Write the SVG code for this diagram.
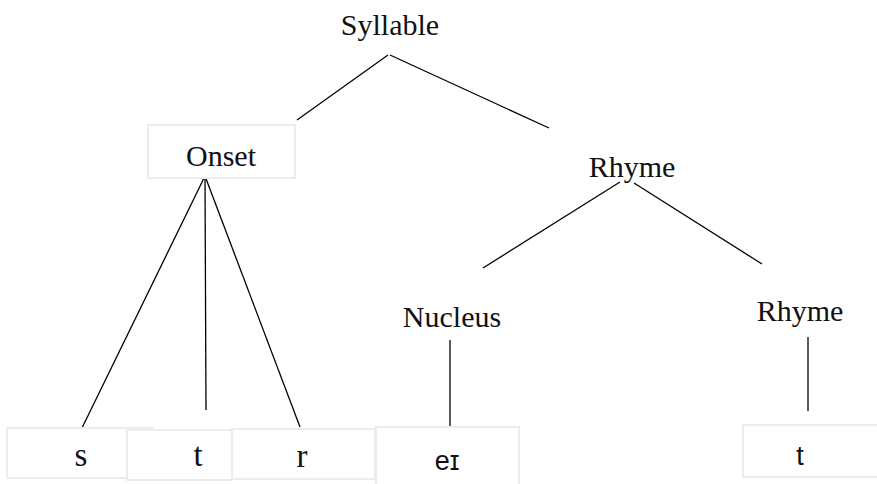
<svg xmlns="http://www.w3.org/2000/svg" width="877" height="484" viewBox="0 0 877 484">
<style>
.box{fill:#ffffff;stroke:#ececec;stroke-width:2}
.lbl{font-family:"Liberation Serif","Times New Roman",serif;font-size:30px;fill:#111;text-anchor:middle}
.big{font-size:33px}
.sans{font-family:"Liberation Sans",Arial,sans-serif;font-size:27px;fill:#111;text-anchor:middle}
.edge{stroke:#000;stroke-width:1.3;fill:none}
</style>
<rect width="877" height="484" fill="#ffffff"/>
<g id="connectors">
<line class="edge" x1="388" y1="55" x2="297" y2="120"/>
<line class="edge" x1="390" y1="55" x2="549" y2="128"/>
<line class="edge" x1="205" y1="176" x2="81" y2="430"/>
<line class="edge" x1="205" y1="176" x2="206" y2="410"/>
<line class="edge" x1="205" y1="176" x2="300" y2="427"/>
<line class="edge" x1="620" y1="182" x2="483" y2="268"/>
<line class="edge" x1="634" y1="183" x2="762" y2="264"/>
<line class="edge" x1="450" y1="340" x2="450" y2="440"/>
<line class="edge" x1="808" y1="337" x2="808" y2="411"/>
</g>
<g id="syllable"><text class="lbl" x="390" y="35">Syllable</text></g>
<g id="onset"><rect class="box" x="148" y="125" width="147" height="53"/><text class="lbl" x="221" y="166">Onset</text></g>
<g id="rhyme1"><text class="lbl" x="632" y="177">Rhyme</text></g>
<g id="nucleus"><text class="lbl" x="452" y="327">Nucleus</text></g>
<g id="rhyme2"><text class="lbl" x="800" y="321">Rhyme</text></g>
<g id="s"><rect class="box" x="7" y="428" width="146" height="50"/><text class="lbl big" x="81" y="466">s</text></g>
<g id="t1"><rect class="box" x="127" y="430" width="105" height="50"/><text class="lbl big" x="198" y="466">t</text></g>
<g id="r"><rect class="box" x="232" y="429" width="143" height="50"/><text class="lbl big" x="302" y="467">r</text></g>
<g id="ei"><rect class="box" x="376" y="427" width="143" height="70"/><text class="sans" x="447" y="470">eɪ</text></g>
<g id="t2"><rect class="box" x="743" y="425" width="140" height="52"/><text class="sans" x="800" y="465">t</text></g>
</svg>
